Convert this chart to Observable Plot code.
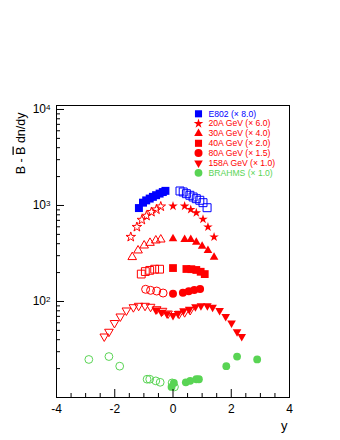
<!DOCTYPE html>
<html><head><meta charset="utf-8">
<script src="https://cdn.jsdelivr.net/npm/d3@7"></script>
<script src="https://cdn.jsdelivr.net/npm/@observablehq/plot@0.6"></script>
<style>html,body{margin:0;padding:0;background:#fff;overflow:hidden}svg{display:block}</style>
</head><body><div id="chart"></div>
<script>
// ---- data (plotted values, already scaled as in the legend) ----
const e802Y      = [-1.17, -1.03, -0.92, -0.80, -0.69, -0.58, -0.46, -0.35, -0.26];
const e802V      = [940, 1070, 1130, 1180, 1230, 1280, 1330, 1380, 1420];
const e802OpenY  = [0.24, 0.35, 0.46, 0.58, 0.69, 0.80, 0.92, 1.03, 1.17];
const e802OpenV  = [1416, 1382, 1327, 1277, 1226, 1177, 1133, 1070, 948];

const na20Y      = [0.0, 0.40, 0.61, 0.80, 1.03, 1.20, 1.41];
const na20V      = [985, 985, 908, 839, 720, 597, 470];
const na20OpenY  = [-0.42, -0.57, -0.74, -0.91, -1.07, -1.24, -1.45];
const na20OpenV  = [975, 908, 855, 780, 708, 597, 470];

const na30Y      = [0.0, 0.40, 0.61, 0.80, 1.00, 1.20, 1.41];
const na30V      = [450, 442, 442, 415, 377, 340, 289];
const na30OpenY  = [-0.42, -0.59, -0.79, -0.99, -1.20, -1.40];
const na30OpenV  = [442, 432, 408, 383, 340, 290];

const na40Y      = [0.0, 0.46, 0.63, 0.80, 0.95, 1.09];
const na40V      = [223, 218, 217, 213, 204, 193];
const na40OpenY  = [-0.46, -0.63, -0.80, -0.95, -1.09];
const na40OpenV  = [217, 217, 211, 205, 193];

const na80Y      = [0.0, 0.34, 0.54, 0.73, 0.93];
const na80V      = [120.3, 123.5, 128, 131.5, 134.6];
const na80OpenY  = [-0.34, -0.56, -0.77, -0.94];
const na80OpenV  = [122.5, 128.5, 130.7, 134];

const na158Y     = [-0.59, -0.40, -0.21, 0.0, 0.17, 0.36, 0.56, 0.77, 0.96, 1.18, 1.36, 1.60, 1.81, 2.01, 2.20, 2.36];
const na158V     = [81.5, 77.3, 74.5, 71.5, 75.0, 80.0, 83.1, 88.1, 90.2, 90.2, 87.2, 80.6, 69.8, 59.7, 48.4, 43.2];
const na158OpenY = [0.59, 0.40, 0.21, -0.17, -0.36, -0.56, -0.77, -0.96, -1.18, -1.36, -1.60, -1.81, -2.01, -2.20, -2.36];
const na158OpenV = [81.5, 77.3, 74.5, 75.0, 80.0, 83.1, 88.1, 90.2, 90.2, 87.2, 80.6, 69.8, 59.7, 48.4, 43.2];

const brahmsY     = [-0.05, 0.03, 0.44, 0.59, 0.80, 0.89, 1.83, 2.20, 2.89];
const brahmsV     = [12.9, 14.2, 14.4, 14.9, 15.5, 15.5, 21.2, 26.7, 24.9];
const brahmsOpenY = [0.05, -0.03, -0.44, -0.59, -0.80, -0.89, -1.83, -2.20, -2.89];
const brahmsOpenV = [12.9, 14.2, 14.4, 14.9, 15.5, 15.5, 21.2, 26.7, 24.9];

const legendLabels = ["E802 (\u00d7 8.0)", "20A GeV (\u00d7 6.0)", "30A GeV (\u00d7 4.0)", "40A GeV (\u00d7 2.0)", "80A GeV (\u00d7 1.5)", "158A GeV (\u00d7 1.0)", "BRAHMS (\u00d7 1.0)"];

const xMajorTicks = [-4, -2, 0, 2, 4];
const xMinorTicks = [-3.5, -3, -2.5, -1.5, -1, -0.5, 0.5, 1, 1.5, 2.5, 3, 3.5];
const yMajorTicks = [100, 1000, 10000];
const yMinorTicks = [20, 30, 40, 50, 60, 70, 80, 90, 200, 300, 400, 500, 600, 700, 800, 900, 2000, 3000, 4000, 5000, 6000, 7000, 8000, 9000];

const xLabel = "y";
const yLabel = "B - B dn/dy";

// ---- styling ----
const BLUE = "#0000ff", RED = "#ff0000", GREEN = "#59d454";
const W = 340, H = 440, mL = 56, mR = 51, mT = 105, mB = 43;
const frameW = W - mL - mR, frameH = H - mT - mB;

const triangleDown = {
  draw(context, size) {
    const y = Math.sqrt(size / (Math.sqrt(3) * 3));
    context.moveTo(0, 2 * y);
    context.lineTo(-Math.sqrt(3) * y, -y);
    context.lineTo(Math.sqrt(3) * y, -y);
    context.closePath();
  }
};

const series = (ys, vs) => ys.map((r, i) => ({rap: r, val: vs[i]}));

const defs = [
  {f: [e802Y, e802V], o: [e802OpenY, e802OpenV], sym: "square", r: 4.5, c: BLUE},
  {f: [na20Y, na20V], o: [na20OpenY, na20OpenV], sym: "star", r: 3.0, c: RED},
  {f: [na30Y, na30V], o: [na30OpenY, na30OpenV], sym: "triangle", r: 3.2, c: RED},
  {f: [na40Y, na40V], o: [na40OpenY, na40OpenV], sym: "square", r: 4.4, c: RED},
  {f: [na80Y, na80V], o: [na80OpenY, na80OpenV], sym: "circle", r: 4, c: RED},
  {f: [na158Y, na158V], o: [na158OpenY, na158OpenV], sym: triangleDown, r: 3.2, c: RED},
  {f: [brahmsY, brahmsV], o: [brahmsOpenY, brahmsOpenV], sym: "circle", r: 3.9, c: GREEN}
];

const marks = [Plot.frame({stroke: "#000", strokeWidth: 1})];
for (const d of defs) {
  marks.push(Plot.dot(series(...d.o), {x: "rap", y: "val", symbol: d.sym, r: d.r, fill: "none", stroke: d.c, strokeWidth: 1}));
}
for (const d of defs) {
  marks.push(Plot.dot(series(...d.f), {x: "rap", y: "val", symbol: d.sym, r: d.r, fill: d.c, stroke: "none"}));
}
// legend
defs.forEach((d, i) => {
  marks.push(Plot.dot([legendLabels[i]], {frameAnchor: "top-left", dx: 142, dy: 8.3 + i * 9.83, symbol: d.sym, r: Math.min(d.r, 4), fill: d.c, stroke: "none"}));
  marks.push(Plot.text([legendLabels[i]], {text: t => t, frameAnchor: "top-left", dx: 152, dy: 8.3 + i * 9.83, textAnchor: "start", lineAnchor: "middle", fill: d.c, fontSize: 8.6}));
});
// ticks (inward, ROOT style)
marks.push(Plot.ruleX(xMajorTicks, {x: d => d, insetTop: frameH - 8, stroke: "#000"}));
marks.push(Plot.ruleX(xMinorTicks, {x: d => d, insetTop: frameH - 4, stroke: "#000"}));
marks.push(Plot.ruleY(yMajorTicks, {y: d => d, insetRight: frameW - 8, stroke: "#000"}));
marks.push(Plot.ruleY(yMinorTicks, {y: d => d, insetRight: frameW - 4, stroke: "#000"}));
// tick labels
marks.push(Plot.axisX({ticks: xMajorTicks, tickSize: 0, tickPadding: 7, tickFormat: d => String(d), label: null, fontSize: 12}));
marks.push(Plot.axisY({ticks: yMajorTicks, tickSize: 0, tickPadding: 6, tickFormat: d => "10^" + Math.round(Math.log10(d)), label: null, fontSize: 12}));
// axis titles
marks.push(Plot.text([xLabel], {text: t => t, frameAnchor: "bottom-right", dx: -2, dy: 32, textAnchor: "end", lineAnchor: "bottom", fontSize: 13}));
marks.push(Plot.text([yLabel], {text: t => t, frameAnchor: "top-left", dx: -32, dy: 7, rotate: -90, textAnchor: "end", lineAnchor: "bottom", fontSize: 12.5}));

const chart = Plot.plot({
  width: W, height: H,
  marginLeft: mL, marginRight: mR, marginTop: mT, marginBottom: mB,
  style: {fontFamily: "'Liberation Sans', Arial, Helvetica, sans-serif", fontSize: "12px", background: "#fff", color: "#000"},
  x: {domain: [-4, 4], axis: null},
  y: {type: "log", domain: [10, 11000], axis: null},
  marks
});

// superscript exponents and overline
d3.select(chart).selectAll("text").each(function() {
  const t = this.textContent;
  const m = /^10\^(\d)$/.exec(t);
  if (m) {
    this.textContent = "10";
    const ts = document.createElementNS("http://www.w3.org/2000/svg", "tspan");
    ts.setAttribute("dy", "-0.45em");
    ts.setAttribute("font-size", "8");
    ts.textContent = m[1];
    this.appendChild(ts);
  } else if (t === yLabel) {
    this.textContent = "";
    const parts = ["B - ", "B", " dn/dy"];
    parts.forEach((p, i) => {
      const ts = document.createElementNS("http://www.w3.org/2000/svg", "tspan");
      ts.textContent = p;
      if (i === 1) ts.setAttribute("text-decoration", "overline");
      this.appendChild(ts);
    });
  }
});

document.getElementById("chart").appendChild(chart);
</script></body></html>
